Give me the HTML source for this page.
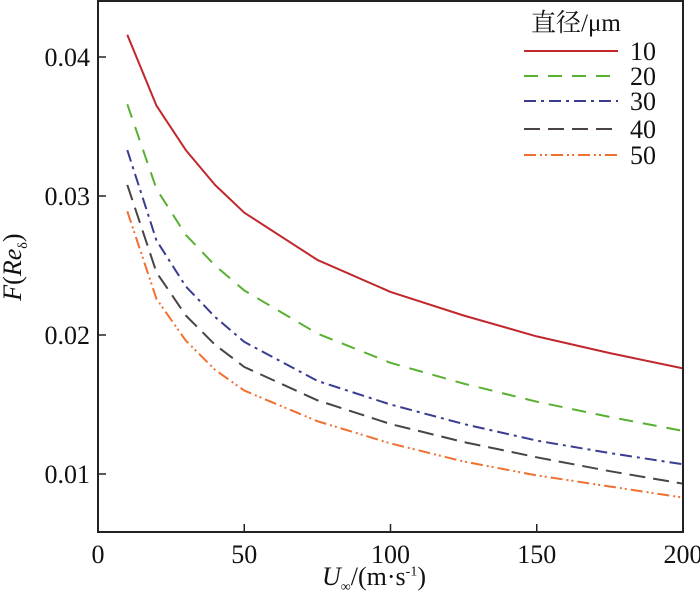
<!DOCTYPE html>
<html><head><meta charset="utf-8"><style>
html,body{margin:0;padding:0;background:#fff;}
svg{display:block;font-family:"Liberation Serif","Noto Serif CJK SC",serif;}
</style></head><body>
<svg id="chart" width="700" height="598" viewBox="0 0 700 598"></svg>
<script>
const xs = [10,20,30,40,50,75,100,125,150,175,200];
const s10 = [.0416,.0365,.0333,.0308,.0288,.0254,.0231,.0214,.0199,.0187,.0176];
const s20 = [.0366,.0305,.0272,.0250,.0232,.0201,.0180,.0165,.0152,.0141,.0131];
const s30 = [.0333,.0268,.0235,.0213,.0195,.0167,.0150,.0136,.0124,.0115,.0107];
const s40 = [.0308,.0245,.0214,.0193,.0177,.0153,.0136,.0123,.0112,.0102,.0093];
const s50 = [.0289,.0226,.0196,.0175,.0160,.0138,.0122,.0109,.0099,.0091,.0083];
const seriesNames = ["10","20","30","40","50"];
const xTicks = [0,50,100,150,200];
const yTicks = [0.01,0.02,0.03,0.04];
const yTickLabels = ["0.01","0.02","0.03","0.04"];

const NS="http://www.w3.org/2000/svg";
const svg=document.getElementById('chart');
const L=98,R=683,T=1,B=532;
const X=v=>L+(v-0)/200*(R-L);
const Y=v=>196-(v-0.03)/0.01*139;
function mk(tag,attrs,parent){const e=document.createElementNS(NS,tag);for(const k in attrs)e.setAttribute(k,attrs[k]);(parent||svg).appendChild(e);return e;}

const styles=[
 {c:"#c0282d",d:"none"},
 {c:"#58b030",d:"14 10"},
 {c:"#3a3d8f",d:"12 5 3 5"},
 {c:"#4a4444",d:"16 8"},
 {c:"#f07030",d:"12 4 2 3 2 4"}
];
const data=[s10,s20,s30,s40,s50];
data.forEach((s,i)=>{
  const p=mk('polyline',{points:s.map((v,j)=>X(xs[j]).toFixed(1)+','+Y(v).toFixed(1)).join(' '),fill:'none',stroke:styles[i].c,'stroke-width':2,'stroke-dasharray':styles[i].d,'stroke-linejoin':'round'});
  
  
});

const frame=mk('rect',{x:L,y:T,width:R-L,height:B-T,fill:'none',stroke:'#222','stroke-width':2});



xTicks.forEach(t=>{
  const x=X(t);
  const tk=mk('line',{x1:x,y1:B,x2:x,y2:B-8,stroke:'#222','stroke-width':1.5});
  
  
  const tx=mk('text',{x:x,y:B+31,'font-size':26,'text-anchor':'middle',fill:'#111'});
  tx.textContent=t;
  
  
});
yTicks.forEach((t,i)=>{
  const y=Y(t);
  const tk=mk('line',{x1:L,y1:y,x2:L+8,y2:y,stroke:'#222','stroke-width':1.5});
  
  
  const tx=mk('text',{x:90,y:y+9,'font-size':26,'text-anchor':'end',fill:'#111'});
  tx.textContent=yTickLabels[i];
  
  
});

// legend
const lt=mk('text',{x:531,y:31,'font-size':25,fill:'#111'});
lt.textContent='直径/μm';


const ly=[51,76,101,129,155];
seriesNames.forEach((n,i)=>{
  const g=mk('g',{});
  
  
  mk('line',{x1:524,y1:ly[i],x2:618,y2:ly[i],stroke:styles[i].c,'stroke-width':2,'stroke-dasharray':styles[i].d},g);
  const t=mk('text',{x:630,y:ly[i]+9,'font-size':26,fill:'#111'},g);
  t.textContent=n;
});
</script>
<div style="position:absolute;left:0;top:0;width:700px;height:598px;pointer-events:none;font-family:'Liberation Serif',serif;color:#111;">
  <div style="position:absolute;left:322px;top:562px;font-size:26px;white-space:nowrap;"><i>U</i><sub style="font-size:14px;">∞</sub>/(m·s<sup style="font-size:14px;">-1</sup>)</div>
  <div style="position:absolute;left:-40px;top:250px;width:110px;transform:rotate(-90deg);transform-origin:50% 50%;font-size:26px;white-space:nowrap;text-align:center;"><i>F</i>(<i>Re</i><sub style="font-size:14px;">δ</sub>)</div>
</div>
</body></html>
